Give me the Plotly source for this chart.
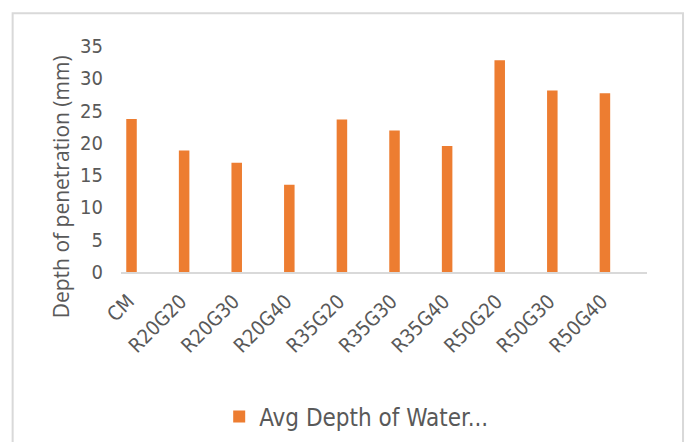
import plotly.graph_objects as go

categories = ["CM", "R20G20", "R20G30", "R20G40", "R35G20", "R35G30", "R35G40", "R50G20", "R50G30", "R50G40"]
avg_depth = [23.7, 18.8, 16.9, 13.5, 23.6, 21.9, 19.5, 32.8, 28.1, 27.7]
y_ticks = [0, 5, 10, 15, 20, 25, 30, 35]
series_name = "Avg Depth of Water..."
y_title = "Depth of penetration (mm)"

ORANGE = "#ED7D31"
GREY_TXT = "#595959"
LINE = "#D9D9D9"
FONT = "DejaVu Sans Condensed"

fig = go.Figure()
fig.add_trace(go.Bar(
    x=categories, y=avg_depth, name=series_name,
    marker=dict(color=ORANGE, line=dict(width=0)),
    width=0.2, offset=-0.4,
))

fig.update_layout(
    width=688, height=442,
    margin=dict(l=121, r=41, t=46, b=170, autoexpand=False),
    paper_bgcolor="white", plot_bgcolor="white",
    showlegend=True,
    legend=dict(
        orientation="h", xref="container", yref="container",
        x=0.3186, y=0.057, xanchor="left", yanchor="middle",
        font=dict(family=FONT, size=24, color=GREY_TXT),
        itemwidth=30,
    ),
    xaxis=dict(
        type="category", range=[-0.5, 9.5], automargin=False,
        showgrid=False, showline=True, linecolor=LINE, linewidth=1.5,
        ticks="", tickangle=-45,
        tickfont=dict(family=FONT, size=20, color=GREY_TXT),
        ticklabelshift=-19, ticklabelstandoff=8,
    ),
    yaxis=dict(
        range=[0, 35], tickvals=y_ticks, automargin=False,
        showgrid=False, showline=False, zeroline=False, ticks="",
        tickfont=dict(family=FONT, size=20, color=GREY_TXT),
        ticklabelstandoff=17,
    ),
    annotations=[dict(
        text=y_title, textangle=-90, showarrow=False,
        xref="paper", yref="paper", x=-0.114, y=0.375,
        xanchor="center", yanchor="middle",
        font=dict(family="Open Sans", size=21, color=GREY_TXT),
    )],
    shapes=[dict(
        type="rect", xref="paper", yref="paper",
        x0=-0.206, x1=1.0685, y0=-0.8, y1=1.145,
        line=dict(color=LINE, width=2), fillcolor="rgba(0,0,0,0)", layer="below",
    )],
)

fig.write_html("out.html", config={"displayModeBar": False},
               post_script="document.body.style.margin='0';")
